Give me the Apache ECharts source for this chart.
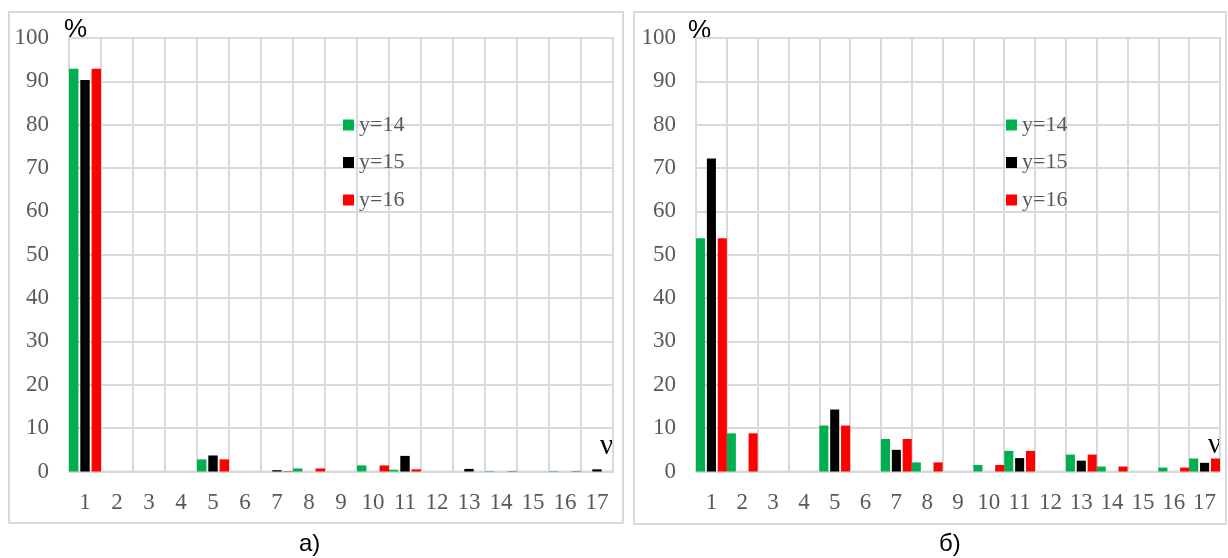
<!DOCTYPE html>
<html>
<head>
<meta charset="utf-8">
<script src="https://cdn.jsdelivr.net/npm/echarts@6/dist/echarts.min.js"></script>
<style>
  html, body { margin: 0; padding: 0; background: #fff; }
  #chart { width: 1228px; height: 558px; }
</style>
</head>
<body>
<div id="chart"></div>
<script>
// Categories ν = 1..17
const categories = ['1','2','3','4','5','6','7','8','9','10','11','12','13','14','15','16','17'];
const seriesNames = ['y=14', 'y=15', 'y=16'];

// Panel а)
const leftY14 = [92.9, 0, 0, 0, 2.8, 0, 0, 0.7, 0, 1.4, 0.4, 0, 0, 0.1, 0, 0.1, 0];
const leftY15 = [90.3, 0, 0, 0, 3.7, 0, 0.3, 0, 0, 0, 3.6, 0, 0.6, 0, 0, 0, 0.5];
const leftY16 = [92.9, 0, 0, 0, 2.8, 0, 0.1, 0.7, 0, 1.4, 0.5, 0, 0, 0.1, 0, 0.1, 0];

// Panel б)
const rightY14 = [53.8, 8.8, 0, 0, 10.6, 0, 7.5, 2.1, 0, 1.5, 4.75, 0, 3.9, 1.15, 0, 0.9, 3.0];
const rightY15 = [72.2, 0, 0, 0, 14.3, 0, 5.0, 0, 0, 0, 3.1, 0, 2.5, 0, 0, 0, 2.0];
const rightY16 = [53.8, 8.8, 0, 0, 10.6, 0, 7.5, 2.1, 0, 1.5, 4.75, 0, 3.9, 1.15, 0, 0.9, 3.0];

const colors = ['#00B050', '#000000', '#FF0000'];
const gridColor = '#D9D9D9';
const labelColor = '#595959';
const serif = 'Liberation Serif';

const chart = echarts.init(document.getElementById('chart'), null, { renderer: 'canvas' });

function xAxisFor(gridIndex) {
  return {
    type: 'category', gridIndex, data: categories, boundaryGap: true,
    axisTick: { show: false },
    axisLine: { show: true, lineStyle: { color: gridColor, width: 2 } },
    splitLine: { show: true, interval: 0, lineStyle: { color: gridColor, width: 2 } },
    axisLabel: { interval: 0, margin: 20, color: labelColor, fontFamily: serif, fontSize: 23 }
  };
}
function yAxisFor(gridIndex) {
  return {
    type: 'value', gridIndex, min: 0, max: 100, interval: 10,
    axisLine: { show: false }, axisTick: { show: false },
    splitLine: { show: true, lineStyle: { color: gridColor, width: 2 } },
    axisLabel: { margin: 20, color: labelColor, fontFamily: serif, fontSize: 23 }
  };
}
function barSeries(name, data, idx, gridIdx) {
  return {
    name, type: 'bar', data, xAxisIndex: gridIdx, yAxisIndex: gridIdx,
    barCategoryGap: '0%', barGap: '20%',
    itemStyle: { color: colors[idx] },
    emphasis: { disabled: true }, animation: false
  };
}
function legendAt(left) {
  return {
    data: seriesNames, orient: 'vertical', left, top: 114, padding: 0,
    icon: 'rect', itemWidth: 11, itemHeight: 11, itemGap: 15.5,
    textStyle: { color: labelColor, fontFamily: serif, fontSize: 22, lineHeight: 22, padding: [0, 0, 0, 0] },
    selectedMode: false
  };
}

chart.setOption({
  animation: false,
  grid: [
    { left: 69, top: 38, width: 544, height: 433.5, show: true, borderColor: gridColor, borderWidth: 2, backgroundColor: 'transparent' },
    { left: 696, top: 38, width: 524, height: 433.5, show: true, borderColor: gridColor, borderWidth: 2, backgroundColor: 'transparent' }
  ],
  xAxis: [xAxisFor(0), xAxisFor(1)],
  yAxis: [yAxisFor(0), yAxisFor(1)],
  legend: [legendAt(343), legendAt(1006)],
  series: [
    barSeries(seriesNames[0], leftY14, 0, 0),
    barSeries(seriesNames[1], leftY15, 1, 0),
    barSeries(seriesNames[2], leftY16, 2, 0),
    barSeries(seriesNames[0], rightY14, 0, 1),
    barSeries(seriesNames[1], rightY15, 1, 1),
    barSeries(seriesNames[2], rightY16, 2, 1)
  ],
  graphic: [
    // panel frames
    { type: 'rect', shape: { x: 9, y: 12, width: 614, height: 511 }, style: { fill: null, stroke: gridColor, lineWidth: 2 }, z: -1, silent: true },
    { type: 'rect', shape: { x: 634, y: 12, width: 592, height: 512 }, style: { fill: null, stroke: gridColor, lineWidth: 2 }, z: -1, silent: true },
    // axis titles
    { type: 'text', left: 64, top: 17, style: { text: '%', fill: '#000', font: '26px "Liberation Sans"' }, silent: true },
    { type: 'text', left: 688, top: 18, style: { text: '%', fill: '#000', font: '26px "Liberation Sans"' }, silent: true },
    { type: 'text', left: 600, top: 432, style: { text: 'ν', fill: '#000', font: '29px "Liberation Serif"' }, silent: true },
    { type: 'text', left: 1208, top: 431, style: { text: 'ν', fill: '#000', font: '29px "Liberation Serif"' }, silent: true },
    // panel captions
    { type: 'text', left: 299, top: 532, style: { text: 'а)', fill: '#000', font: '24px "Liberation Sans"' }, silent: true },
    { type: 'text', left: 939, top: 532, style: { text: 'б)', fill: '#000', font: '24px "Liberation Sans"' }, silent: true }
  ]
});
</script>
</body>
</html>
